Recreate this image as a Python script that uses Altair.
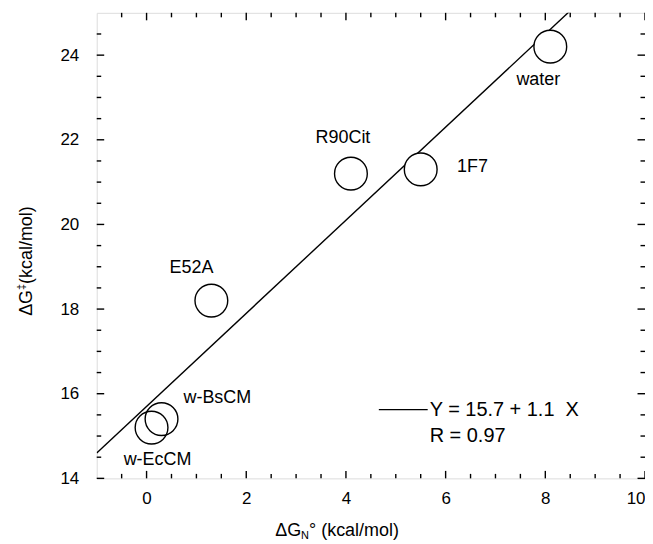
import altair as alt
import pandas as pd

# ---------------- data ----------------
names = ["water", "1F7", "R90Cit", "E52A", "w-BsCM", "w-EcCM"]
dg_n = [8.1, 5.5, 4.1, 1.3, 0.3, 0.1]          # ΔG_N° (kcal/mol)
dg_act = [24.2, 21.3, 21.2, 18.2, 15.4, 15.2]  # ΔG‡ (kcal/mol)

fit_x = [-1.0, 8.5]
fit_y = [14.6, 25.05]

x_major = [0, 2, 4, 6, 8, 10]
x_minor = [-0.5, 0.5, 1, 1.5, 2.5, 3, 3.5, 4.5, 5, 5.5, 6.5, 7, 7.5, 8.5, 9, 9.5]
y_major = [14, 16, 18, 20, 22, 24]
y_minor = [14.5, 15, 15.5, 16.5, 17, 17.5, 18.5, 19, 19.5, 20.5, 21, 21.5,
           22.5, 23, 23.5, 24.5]

legend_eq = "Y = 15.7 + 1.1\u00a0 X"
legend_r = "R = 0.97"

# ---------------- style ----------------
FONT = "Liberation Sans"
W, H = 550, 467
MAJ, MIN = 7.5, 4.5
LW = 1.4

pts = pd.DataFrame({"x": dg_n, "y": dg_act, "name": names})
fit = pd.DataFrame({"x": fit_x, "y": fit_y})
one = pd.DataFrame({"a": [0]})

xs = alt.Scale(domain=[-1, 10], nice=False, zero=False)
ys = alt.Scale(domain=[14, 25], nice=False, zero=False)
xax = alt.Axis(values=x_major, format="d", labelFontSize=17, labelFont=FONT,
               labelColor="black", ticks=False, domain=False, grid=False,
               labelPadding=12, title=None)
yax = alt.Axis(values=y_major, format="d", labelFontSize=17, labelFont=FONT,
               labelColor="black", ticks=False, domain=False, grid=False,
               labelPadding=18, title=None)


def X(f):
    return alt.X(f"{f}:Q", scale=xs, axis=xax)


def Y(f):
    return alt.Y(f"{f}:Q", scale=ys, axis=yax)


layers = []

# tick marks (inward, on all four sides)
for vals, ln in ((x_major, MAJ), (x_minor, MIN)):
    d = pd.DataFrame({"v": vals})
    layers.append(alt.Chart(d).mark_rule(color="black", strokeWidth=LW).encode(
        x=X("v"), y=alt.value(H), y2=alt.value(H - ln)))
    layers.append(alt.Chart(d).mark_rule(color="black", strokeWidth=LW).encode(
        x=X("v"), y=alt.value(0), y2=alt.value(ln)))
for vals, ln in ((y_major, MAJ), (y_minor, MIN)):
    d = pd.DataFrame({"v": vals})
    layers.append(alt.Chart(d).mark_rule(color="black", strokeWidth=LW).encode(
        y=Y("v"), x=alt.value(0), x2=alt.value(ln)))
    layers.append(alt.Chart(d).mark_rule(color="black", strokeWidth=LW).encode(
        y=Y("v"), x=alt.value(W), x2=alt.value(W - ln)))

# fit line
layers.append(alt.Chart(fit).mark_line(color="black", strokeWidth=LW, clip=True).encode(
    x=X("x"), y=Y("y")))

# circles: white fills first, then outlines
layers.append(alt.Chart(pts).mark_point(shape="circle", size=1080, filled=True,
                                        color="white", opacity=1, strokeWidth=0).encode(
    x=X("x"), y=Y("y")))
layers.append(alt.Chart(pts).mark_point(shape="circle", size=1080, filled=False,
                                        color="black", opacity=1, strokeWidth=LW).encode(
    x=X("x"), y=Y("y")))

# point labels
offsets = {"water": (-12, 33), "1F7": (52, -2), "R90Cit": (-8, -36),
           "E52A": (-20, -33), "w-BsCM": (56, -21), "w-EcCM": (6, 33)}
for n in names:
    dx, dy = offsets[n]
    layers.append(alt.Chart(pts).transform_filter(alt.datum.name == n).mark_text(
        dx=dx, dy=dy, fontSize=18, font=FONT, color="black",
        align="center", baseline="middle").encode(
        x=X("x"), y=Y("y"), text="name:N"))

# legend
layers.append(alt.Chart(one).mark_rule(color="black", strokeWidth=LW).encode(
    x=alt.value(283), x2=alt.value(332), y=alt.value(398)))
layers.append(alt.Chart(one).mark_text(align="left", baseline="middle", fontSize=20,
                                       font=FONT, color="black").encode(
    x=alt.value(334), y=alt.value(398), text=alt.value(legend_eq)))
layers.append(alt.Chart(one).mark_text(align="left", baseline="middle", fontSize=20,
                                       font=FONT, color="black").encode(
    x=alt.value(334), y=alt.value(425), text=alt.value(legend_r)))

# x title: ΔG_N° (kcal/mol)
for txt, xp, fs, dy in (("ΔG", 179, 18, 0), ("N", 205, 11, 5),
                        ("°\u00a0(kcal/mol)", 213, 18, 0)):
    layers.append(alt.Chart(one).mark_text(align="left", baseline="middle", fontSize=fs,
                                           font=FONT, color="black", dy=dy).encode(
        x=alt.value(xp), y=alt.value(520), text=alt.value(txt)))

# y title: ΔG‡ (kcal/mol)
for txt, yp, xp, fs in (("ΔG", 304, -70, 18), ("‡", 278, -75, 11),
                        ("\u00a0(kcal/mol)", 272, -70, 18)):
    layers.append(alt.Chart(one).mark_text(align="left", baseline="middle", fontSize=fs,
                                           font=FONT, color="black", angle=270).encode(
        x=alt.value(xp), y=alt.value(yp), text=alt.value(txt)))

chart = alt.layer(*layers).properties(
    width=W, height=H,
    autosize=alt.AutoSizeParams(type="none"),
    padding={"left": 89, "top": 4, "right": 0, "bottom": 65},
).configure_view(stroke="black", strokeWidth=1.6).configure(background="white")

chart.save("out.html", embed_options={"renderer": "svg", "actions": False})
